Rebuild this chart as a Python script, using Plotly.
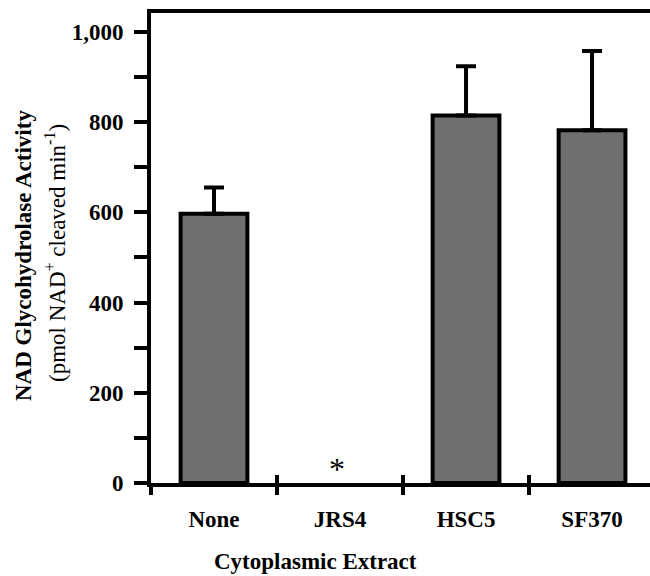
import plotly.graph_objects as go

categories = ["None", "JRS4", "HSC5", "SF370"]
activity = [597, None, 815, 782]
error_up = [58, 0, 109, 176]
y_major_ticks = [0, 200, 400, 600, 800, 1000]
y_tick_labels = ["0", "200", "400", "600", "800", "1,000"]
y_minor_ticks = [100, 300, 500, 700, 900]

FONT = "Liberation Serif"
W, H = 650, 576
ML, MR, MT, MB = 151, 0, 13, 93
plot_w = W - ML - MR
plot_h = H - MT - MB

fig = go.Figure()
fig.add_trace(go.Bar(
    x=categories, y=activity,
    width=0.53,
    marker=dict(color="#6f6f6f", line=dict(color="black", width=4)),
    error_y=dict(type="data", symmetric=False, array=error_up,
                 arrayminus=[0] * len(categories),
                 color="black", thickness=4, width=10),
    showlegend=False, hoverinfo="skip",
))
fig.add_trace(go.Scatter(
    x=categories, y=[None] * len(categories), xaxis="x2", yaxis="y",
    mode="markers", showlegend=False, hoverinfo="skip",
))

fig.update_layout(
    width=W, height=H,
    margin=dict(l=ML, r=MR, t=MT, b=MB, pad=0),
    paper_bgcolor="white", plot_bgcolor="white",
    font=dict(family=FONT, size=23, color="black"),
    xaxis=dict(
        type="category", categoryorder="array", categoryarray=categories,
        range=[-0.5, 3.46],
        showline=True, linecolor="black", linewidth=4, mirror=True,
        tickson="boundaries", ticks="outside", ticklen=8, tickwidth=4,
        tickcolor="black",
        tickfont=dict(family=FONT, size=23, color="black", weight="bold"),
        ticklabelstandoff=12,
        showgrid=False, zeroline=False,
    ),
    xaxis2=dict(
        type="category", categoryorder="array", categoryarray=categories,
        range=[-0.5, 3.46], overlaying="x", anchor="y", side="bottom",
        tickson="boundaries", ticks="inside", ticklen=8, tickwidth=4,
        tickcolor="black", showticklabels=False, showline=False,
        showgrid=False, zeroline=False,
    ),
    yaxis=dict(
        range=[0, 1042],
        tickmode="array", tickvals=y_major_ticks, ticktext=y_tick_labels,
        showline=True, linecolor="black", linewidth=4,
        ticks="outside", ticklen=13, tickwidth=4, tickcolor="black",
        tickfont=dict(family=FONT, size=23, color="black", weight="bold"),
        ticklabelstandoff=6,
        minor=dict(tickmode="array", tickvals=y_minor_ticks, ticks="outside",
                   ticklen=13, tickwidth=4, tickcolor="black", showgrid=False),
        showgrid=False, zeroline=False,
    ),
    annotations=[
        dict(text="<b>NAD Glycohydrolase Activity</b>",
             textangle=-90, xref="paper", yref="paper",
             x=(23 - ML) / plot_w, y=(H - MB - 256) / plot_h,
             xanchor="center", yanchor="middle", showarrow=False,
             font=dict(family=FONT, size=23, color="black")),
        dict(text="(pmol NAD<sup>+</sup> cleaved min<sup>-1</sup>)",
             textangle=-90, xref="paper", yref="paper",
             x=(55 - ML) / plot_w, y=(H - MB - 253) / plot_h,
             xanchor="center", yanchor="middle", showarrow=False,
             font=dict(family=FONT, size=23, color="black")),
        dict(text="<b>Cytoplasmic Extract</b>", xref="paper", yref="paper",
             x=(315 - ML) / plot_w, y=(H - MB - 561) / plot_h,
             xanchor="center", yanchor="middle", showarrow=False,
             font=dict(family=FONT, size=23, color="black")),
        dict(text="*", xref="x", yref="y", x="JRS4", y=0,
             xanchor="center", yanchor="middle", yshift=14, xshift=-3,
             showarrow=False, font=dict(family=FONT, size=32, color="black")),
    ],
)

fig.write_html(
    "out.html",
    config={"displayModeBar": False},
    post_script="document.body.style.margin='0';document.body.style.overflow='hidden';",
)
